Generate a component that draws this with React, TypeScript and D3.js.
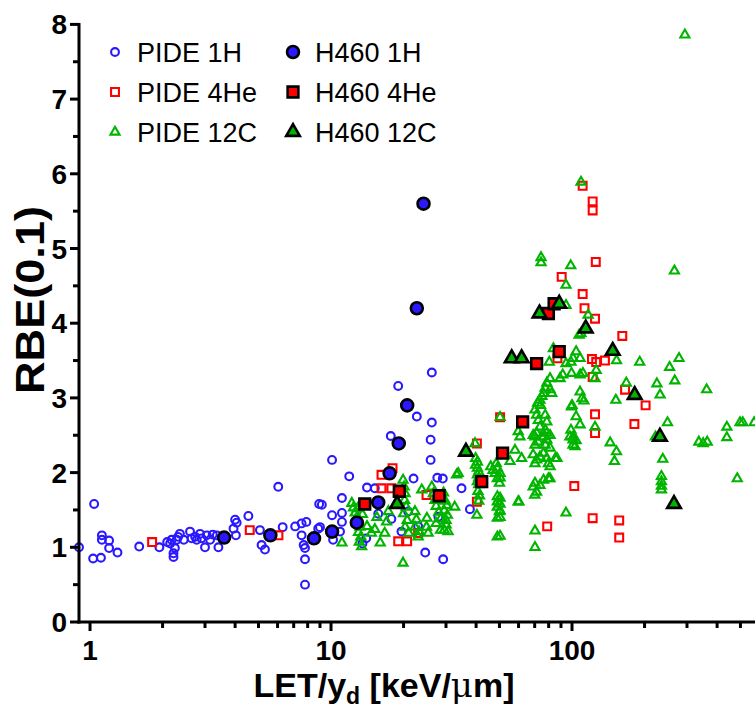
import React from "react";
import * as d3 from "d3";

// ---------- DATA ----------
const pide1H: [number, number][] = [
  [0.9, 1.0], [1.04, 1.58], [1.03, 0.85], [1.11, 0.86], [1.12, 1.16], [1.12, 1.1], [1.2, 1.09], [1.2, 0.99], [1.3, 0.93],
  [1.6, 1.01], [1.94, 1.0], [2.09, 1.07], [2.15, 1.05], [2.18, 1.1], [2.22, 0.92], [2.22, 0.87], [2.25, 0.99], [2.29, 1.1],
  [2.32, 1.14], [2.36, 1.18], [2.45, 1.1], [2.6, 1.21], [2.64, 1.12], [2.73, 1.14], [2.77, 1.1], [2.86, 1.18], [2.9, 1.12],
  [3.0, 1.0], [3.05, 1.16], [3.15, 1.1], [3.23, 1.17], [3.36, 1.16], [3.41, 1.0], [3.94, 1.25], [4.0, 1.37], [4.06, 1.33],
  [4.03, 1.16], [4.54, 1.42], [5.07, 1.23], [5.15, 1.03], [5.32, 0.97], [6.04, 1.81], [6.3, 1.27], [7.1, 1.28], [7.55, 1.32],
  [7.9, 1.34], [7.55, 1.16], [7.7, 1.03], [7.8, 0.99], [7.8, 0.84], [7.8, 0.5], [8.85, 1.25], [8.93, 1.58],
  [10.1, 2.17], [11.9, 1.95], [14.1, 1.8], [15.2, 1.79], [11.1, 1.66], [9.16, 1.57], [10.1, 1.43], [11.1, 1.46], [11.1, 1.34],
  [9.0, 1.27], [10.2, 1.1], [10.9, 1.21], [15.7, 1.45], [17.8, 1.38], [20.9, 1.48], [27.9, 1.41], [19.6, 1.21], [23.0, 1.28],
  [24.6, 0.93], [29.2, 0.84], [37.7, 1.51], [34.8, 1.79], [27.6, 1.93], [29.1, 1.92], [22.0, 1.92], [25.9, 2.17], [25.9, 2.44],
  [17.7, 2.49], [26.2, 2.67], [22.7, 2.75], [19.0, 3.16], [26.2, 3.34], [13.5, 1.05], [14.0, 1.12],
];

const pide4He: [number, number][] = [
  [1.81, 1.07], [4.6, 1.23], [6.05, 1.16], [18.0, 2.06], [16.2, 1.97], [16.2, 1.79], [17.8, 1.79], [24.9, 1.7], [19.0, 1.08],
  [20.7, 1.08], [23.0, 1.19], [40.3, 2.39], [40.3, 1.61], [50.3, 2.74], [78.9, 1.28], [110.7, 5.84], [121.8, 5.63],
  [121.8, 5.51], [125.5, 4.82], [90.6, 4.62], [110.7, 4.39], [112.7, 4.2], [124.6, 4.06], [161.7, 3.83], [121, 3.52],
  [126, 3.48], [137, 3.5], [121.8, 3.28], [166, 3.11], [202, 2.9], [124.6, 2.78], [181.5, 2.65], [124.6, 2.53], [102.2, 1.82],
  [121.8, 1.39], [157, 1.36], [157, 1.13], [87, 3.53],
];

const pide12C: [number, number][] = [
  [11.1, 1.06], [12.2, 1.59], [12.4, 1.53], [12.6, 1.46], [12.8, 1.4], [13.0, 1.33], [13.2, 1.27], [13.0, 1.2], [13.3, 1.14],
  [13.1, 1.07], [13.4, 1.01], [12.9, 1.52], [13.5, 1.44], [14.1, 1.28], [14.7, 1.19], [15.2, 1.24], [16.0, 1.06], [16.7, 1.19],
  [17.0, 1.34], [17.3, 1.48], [15.5, 1.4], [19.9, 1.9], [20.1, 1.81], [20.3, 1.72], [20.2, 1.63], [20.5, 1.54], [20.0, 1.45],
  [20.7, 1.36], [20.3, 1.27], [21.0, 1.19], [19.9, 0.79], [22.3, 1.48], [22.6, 1.37], [22.3, 1.27], [23.2, 1.21], [23.0, 1.14],
  [23.8, 1.77], [25.0, 1.39], [24.9, 1.27], [25.3, 1.19], [26.2, 1.81], [26.6, 1.72], [27.0, 1.63], [27.3, 1.55], [28.0, 1.47],
  [28.5, 1.38], [27.3, 1.32], [28.5, 1.23], [29.3, 1.73], [29.8, 1.62], [30.2, 1.56], [29.5, 1.49], [30.4, 1.43], [30.0, 1.36],
  [30.0, 1.3], [29.5, 1.23], [30.6, 1.21], [33.2, 1.97], [32.6, 1.54], [33.7, 1.99],
  [39.6, 2.39], [39.8, 2.19], [40.5, 2.14], [39.8, 2.1], [40.5, 2.06], [41.0, 2.01], [40.5, 1.97], [41.0, 1.93], [40.5, 1.88],
  [41.0, 1.84], [40.7, 1.75], [41.3, 1.69], [41.0, 1.62], [40.3, 1.43], [46, 2.08], [47, 2.03], [48.5, 2.12], [49, 2.06],
  [48, 1.99], [49, 1.92], [50, 1.86], [49, 1.68], [49, 1.61], [49, 1.54], [50, 1.48], [49, 1.39], [49, 1.14], [50.3, 1.66],
  [50.3, 1.58], [50.3, 1.49], [50.3, 1.4], [50.3, 1.15], [50.3, 1.99], [50.3, 1.93], [50.3, 2.74], [55.3, 2.15], [58, 2.3],
  [61.8, 2.19], [59.8, 1.61], [70.2, 1.22], [70.2, 1.0], [69, 1.81], [71.3, 1.74], [70.2, 1.86], [73.6, 1.83], [76.2, 1.9],
  [79.8, 1.92], [81, 1.92], [70, 1.7], [69, 2.24], [71.3, 2.17], [70.2, 2.12], [73.6, 2.21], [76.2, 2.26], [78.6, 2.19],
  [79.8, 2.12], [81.1, 2.08], [85.3, 2.19], [69, 2.5], [76.2, 2.48], [78.6, 2.44], [70.2, 2.37], [77.4, 2.37], [81.1, 2.33],
  [86.6, 2.19], [70.2, 2.84], [71.3, 2.77], [72.5, 2.7], [77.4, 2.77], [78.6, 2.68], [73.6, 2.61], [77.4, 2.57], [78.6, 2.53],
  [71.3, 2.53], [70.2, 2.48], [59.8, 2.55], [60.8, 2.48], [81.1, 2.5], [72.5, 2.41], [81.1, 3.26], [78.6, 3.2], [77.4, 3.13],
  [76.2, 3.06], [75, 3.02], [73.6, 2.97], [81.1, 3.11], [82.4, 3.06], [74, 2.9], [72, 2.93], [91.5, 3.31], [89.2, 3.26],
  [99.5, 3.33], [108, 3.31], [111, 3.33], [104, 3.62], [101, 3.53], [108, 3.53], [99, 3.48], [80.5, 3.48], [94.4, 3.46],
  [83.7, 3.66], [126, 3.37], [124.6, 3.26], [108, 3.08], [110, 2.99], [99.5, 2.88], [104, 2.75], [108, 2.64], [112, 2.96],
  [100, 2.9], [98, 2.48], [101, 2.48], [101, 2.44], [99, 2.57], [104, 2.43], [101, 2.37], [103, 2.35], [124.6, 2.61],
  [94.4, 4.24], [116.7, 4.11], [109, 3.86], [107, 3.84], [74.4, 4.88], [74.4, 4.81], [98.8, 4.77], [94.4, 4.51], [109, 5.89],
  [266, 4.7], [153, 3.5], [191, 3.48], [278, 3.53], [254, 3.41], [168, 3.2], [225, 3.19], [267, 3.23], [232, 3.04], [362, 3.11],
  [152, 2.97], [144, 2.4], [153, 2.28], [150, 2.15], [249, 2.67], [222, 2.48], [238, 2.18], [235, 1.95], [235, 1.88],
  [235, 1.82], [235, 1.77], [439, 2.61], [439, 2.47], [336, 2.41], [350, 2.39], [364, 2.41], [498, 2.67], [511, 2.67],
  [570, 2.67], [485, 1.92], [294, 7.86], [94.4, 1.46], [60.2, 1.61],
];

const h4601H: [number, number][] = [
  [3.6, 1.13], [5.6, 1.16], [8.5, 1.12], [10.1, 1.21], [12.8, 1.33], [15.7, 1.6], [17.5, 1.99], [19.1, 2.39], [20.7, 2.9],
  [22.7, 4.2], [24.2, 5.6],
];

const h4604He: [number, number][] = [
  [13.8, 1.58], [19.2, 1.75], [28.1, 1.69], [42.2, 1.88], [51.5, 2.26], [62.4, 2.68], [71.3, 3.46], [88.5, 3.62],
  [79.8, 4.13], [84.3, 4.26],
];

const h46012C: [number, number][] = [
  [18.8, 1.58], [36.3, 2.28], [56.2, 3.53], [61.8, 3.53], [73.3, 4.13], [88.5, 4.26], [114, 3.93], [147.5, 3.63],
  [182, 3.04], [231.6, 2.48], [265, 1.58],
];

const yTicks = [0, 1, 2, 3, 4, 5, 6, 7, 8];
const xTickLabels = [1, 10, 100];
const legendLabels = ["PIDE 1H", "PIDE 4He", "PIDE 12C", "H460 1H", "H460 4He", "H460 12C"];

// ---------- LAYOUT ----------
const W = 755;
const H = 709;
const x = d3.scaleLog().domain([0.9, 1000]).range([79, 813]);
const y = d3.scaleLinear().domain([0, 8]).range([622, 24.4]);

const BLUE = "#2a18ff";
const RED = "#ff0000";
const GREEN = "#00b400";
const FONT = "'Liberation Sans', Arial, Helvetica, sans-serif";

type Style = { type: d3.SymbolType; size: number; fill: string; stroke: string; sw: number };
const sOpenCircle: Style = { type: d3.symbolCircle, size: 48, fill: "none", stroke: BLUE, sw: 2.1 };
const sOpenSquare: Style = { type: d3.symbolSquare, size: 62, fill: "none", stroke: RED, sw: 2.1 };
const sOpenTri: Style = { type: d3.symbolTriangle, size: 36, fill: "none", stroke: GREEN, sw: 2.1 };
const sFillCircle: Style = { type: d3.symbolCircle, size: 112, fill: BLUE, stroke: "#000", sw: 2.6 };
const sFillSquare: Style = { type: d3.symbolSquare, size: 115, fill: RED, stroke: "#000", sw: 2.6 };
const sFillTri: Style = { type: d3.symbolTriangle, size: 80, fill: GREEN, stroke: "#000", sw: 2.6 };

function Marks({ data, s }: { data: [number, number][]; s: Style }) {
  const p = d3.symbol().type(s.type).size(s.size)() as string;
  return (
    <g>
      {data.map(([vx, vy], i) => (
        <path key={i} d={p} transform={`translate(${x(vx)},${y(vy)})`} fill={s.fill} stroke={s.stroke}
          strokeWidth={s.sw} strokeLinejoin="miter" />
      ))}
    </g>
  );
}

export default function App() {
  const minorY = d3.range(0.5, 8, 1);
  const minorX: number[] = [];
  [1, 10, 100].forEach((d) => {
    for (let k = 2; k <= 9; k++) minorX.push(d * k);
  });
  const legendStyles = [sOpenCircle, sOpenSquare, sOpenTri, sFillCircle, sFillSquare, sFillTri];
  const axisW = 3;

  return (
    <div style={{ position: "absolute", left: 0, top: 0 }}>
      <svg width={W} height={H} style={{ display: "block", background: "#fff" }} fontFamily={FONT}>
        {/* data */}
        <Marks data={pide1H} s={sOpenCircle} />
        <Marks data={pide4He} s={sOpenSquare} />
        <Marks data={pide12C} s={sOpenTri} />
        <Marks data={h4601H} s={sFillCircle} />
        <Marks data={h4604He} s={sFillSquare} />
        <Marks data={h46012C} s={sFillTri} />

        {/* y axis */}
        <line x1={79} x2={79} y1={y(8) - 1.5} y2={y(0) + 1.5} stroke="#000" strokeWidth={axisW} />
        {yTicks.map((t) => (
          <g key={"yt" + t}>
            <line x1={70} x2={79} y1={y(t)} y2={y(t)} stroke="#000" strokeWidth={axisW} />
            <text x={67} y={y(t)} dy="0.36em" textAnchor="end" fontSize={28} fontWeight="bold">{t}</text>
          </g>
        ))}
        {minorY.map((t) => (
          <line key={"ym" + t} x1={73} x2={79} y1={y(t)} y2={y(t)} stroke="#000" strokeWidth={axisW} />
        ))}

        {/* x axis */}
        <line x1={77.5} x2={W} y1={622} y2={622} stroke="#000" strokeWidth={axisW} />
        {xTickLabels.map((t) => (
          <g key={"xt" + t}>
            <line x1={x(t)} x2={x(t)} y1={622} y2={631} stroke="#000" strokeWidth={axisW} />
            <text x={x(t)} y={660} textAnchor="middle" fontSize={28} fontWeight="bold">{t}</text>
          </g>
        ))}
        {minorX.map((t) => (
          <line key={"xm" + t} x1={x(t)} x2={x(t)} y1={622} y2={628} stroke="#000" strokeWidth={axisW} />
        ))}

        {/* axis titles */}
        <text x={384} y={697} textAnchor="middle" fontSize={34} fontWeight="bold">
          LET/y<tspan fontSize={23} dy={7}>d</tspan><tspan dy={-7}> [keV/</tspan>
          <tspan fontWeight="normal" fontFamily="'DejaVu Serif', serif">μ</tspan>m]
        </text>
        <text transform={`translate(44,${300}) rotate(-90)`} textAnchor="middle" fontSize={40} fontWeight="bold"
          textLength={188} lengthAdjust="spacingAndGlyphs">
          RBE(0.1)
        </text>

        {/* legend */}
        {legendLabels.map((lab, i) => {
          const col = Math.floor(i / 3);
          const row = i % 3;
          const mx = col === 0 ? 115 : 293;
          const my = 52 + row * 40;
          const s = legendStyles[i];
          const p = d3.symbol().type(s.type).size(s.size)() as string;
          return (
            <g key={lab}>
              <path d={p} transform={`translate(${mx},${my})`} fill={s.fill} stroke={s.stroke} strokeWidth={s.sw} />
              <text x={mx + 22} y={my} dy="0.36em" fontSize={27}>{lab}</text>
            </g>
          );
        })}
      </svg>
    </div>
  );
}
